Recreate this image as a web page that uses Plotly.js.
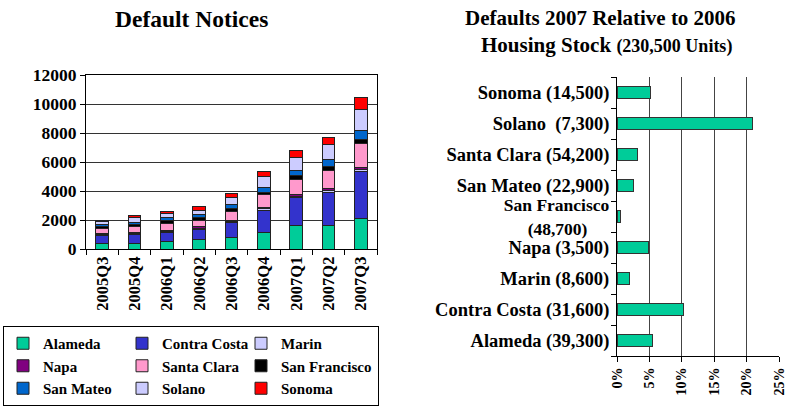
<!DOCTYPE html>
<html>
<head>
<meta charset="utf-8">
<script src="https://cdn.plot.ly/plotly-3.0.1.min.js"></script>
<style>html,body{margin:0;padding:0;background:#fff;}#chart{width:787px;height:407px;}</style>
</head>
<body>
<div id="chart"></div>
<script>
// ---- Left chart: Default Notices (stacked by county) ----
const quarters = ['2005Q3','2005Q4','2006Q1','2006Q2','2006Q3','2006Q4','2007Q1','2007Q2','2007Q3'];
const alameda      = [410, 410, 530, 650, 810, 1150, 1590, 1590, 2070];
const contraCosta  = [490, 560, 620, 690, 1010, 1520, 1940, 2330, 3250];
const marin        = [70, 70, 70, 90, 80, 100, 120, 100, 180];
const napa         = [70, 70, 70, 90, 80, 100, 110, 130, 140];
const santaClara   = [350, 410, 500, 460, 600, 880, 1010, 1290, 1660];
const sanFrancisco = [140, 140, 160, 160, 180, 180, 300, 250, 250];
const sanMateo     = [180, 180, 200, 230, 280, 320, 350, 480, 600];
const solano       = [160, 320, 280, 320, 510, 760, 880, 1060, 1500];
const sonoma       = [120, 120, 160, 250, 250, 350, 460, 440, 780];
const seriesNames  = ['Alameda','Contra Costa','Marin','Napa','Santa Clara','San Francisco','San Mateo','Solano','Sonoma'];
const seriesValues = [alameda, contraCosta, marin, napa, santaClara, sanFrancisco, sanMateo, solano, sonoma];
const seriesColors = ['#00CC99','#3333CC','#CCCCFF','#800080','#FF99CC','#000000','#0066CC','#CCCCFF','#FF0000'];
// legend column of each series (legend reads across in 3 columns)
const legendColumn = ['c1','c2','c3','c1','c2','c3','c1','c2','c3'];

// ---- Right chart: Defaults 2007 relative to 2006 housing stock ----
const countyLabels = ['Alameda (39,300)','Contra Costa (31,600)','Marin (8,600)','Napa (3,500)',
  '<span style="font-size:17.5px">San Francisco<br>(48,700)\u00a0\u00a0\u00a0\u00a0\u00a0</span>',
  'San Mateo (22,900)','Santa Clara (54,200)','Solano\u00a0 (7,300)','Sonoma (14,500)'];
const defaultShare = [0.055, 0.103, 0.020, 0.048, 0.005, 0.025, 0.031, 0.209, 0.052];

const FONT = 'Liberation Serif, Times New Roman, serif';
const ML = 20, W = 787, H = 407, GW = W - ML;
const px = v => (v - ML) / GW;
const py = v => 1 - v / H;
const colWidth = {c1: 74, c2: 74, c3: 92};

const traces = seriesNames.map((n, i) => ({
  type: 'bar', name: n, x: quarters, y: seriesValues[i],
  xaxis: 'x', yaxis: 'y', width: 0.4,
  legendgroup: legendColumn[i], legendwidth: colWidth[legendColumn[i]],
  marker: {color: seriesColors[i], line: {color: '#222', width: 1}}
}));
traces.push({
  type: 'bar', orientation: 'h', x: defaultShare, y: countyLabels,
  xaxis: 'x2', yaxis: 'y2', width: 0.36, showlegend: false,
  marker: {color: '#00CC99', line: {color: '#333', width: 1}}
});

const layout = {
  width: W, height: H,
  margin: {l: ML, r: 0, t: 0, b: 0, autoexpand: false},
  paper_bgcolor: '#fff', plot_bgcolor: '#fff',
  barmode: 'stack', bargap: 0.6,
  font: {family: FONT, color: '#000', weight: 700},
  showlegend: true,
  xaxis: {
    domain: [px(86), px(377)], type: 'category', tickangle: -90,
    tickson: 'boundaries', ticks: 'outside', ticklen: 5, tickcolor: '#000',
    showline: true, linecolor: '#000', linewidth: 1, mirror: true,
    tickfont: {family: FONT, size: 16.5, weight: 700, color: '#000'}, showgrid: false
  },
  yaxis: {
    domain: [py(249), py(75)], range: [0, 12000], dtick: 2000, tickformat: 'd',
    ticks: 'outside', ticklen: 5, tickcolor: '#000',
    showline: true, linecolor: '#000', linewidth: 1, mirror: true,
    showgrid: true, gridcolor: '#333', gridwidth: 1,
    tickfont: {family: FONT, size: 17.5, weight: 700, color: '#000'}, zeroline: false
  },
  xaxis2: {
    domain: [px(617), px(779)], anchor: 'y2', range: [0, 0.25], dtick: 0.05, tickformat: '.0%',
    tickangle: -90, ticks: 'outside', ticklen: 5, tickcolor: '#000',
    showline: true, linecolor: '#000', linewidth: 1,
    showgrid: true, gridcolor: '#444', gridwidth: 1, zeroline: false,
    tickfont: {family: FONT, size: 14, weight: 700, color: '#000'}
  },
  yaxis2: {
    domain: [py(356), py(77)], anchor: 'x2', type: 'category',
    tickson: 'boundaries', ticks: 'outside', ticklen: 5, tickcolor: '#000', ticklabelstandoff: 3,
    showline: true, linecolor: '#000', linewidth: 1, showgrid: false,
    tickfont: {family: FONT, size: 18.5, weight: 700, color: '#000'}
  },
  legend: {
    orientation: 'h', x: px(3), xanchor: 'left', y: py(406), yanchor: 'bottom',
    traceorder: 'grouped', bordercolor: '#000', borderwidth: 1, bgcolor: '#fff',
    font: {family: FONT, size: 15, weight: 700, color: '#000'}
  },
  annotations: [
    {xref: 'paper', yref: 'paper', x: px(191), y: py(19), xanchor: 'center', yanchor: 'middle', showarrow: false,
     text: 'Default Notices', font: {family: FONT, size: 23.5, weight: 700, color: '#000'}},
    {xref: 'paper', yref: 'paper', x: px(600), y: py(18), xanchor: 'center', yanchor: 'middle', showarrow: false,
     text: 'Defaults 2007 Relative to 2006', font: {family: FONT, size: 21, weight: 700, color: '#000'}},
    {xref: 'paper', yref: 'paper', x: px(606), y: py(45), xanchor: 'center', yanchor: 'middle', showarrow: false,
     text: 'Housing Stock <span style="font-size:18px">(230,500 Units)</span>', font: {family: FONT, size: 21, weight: 700, color: '#000'}}
  ]
};

Plotly.newPlot('chart', traces, layout, {displayModeBar: false, staticPlot: true});
</script>
</body>
</html>
